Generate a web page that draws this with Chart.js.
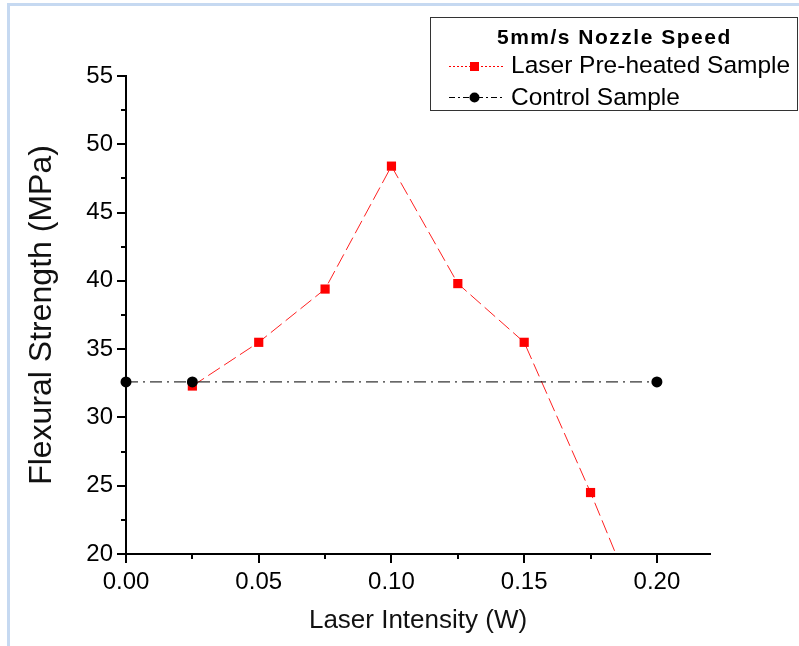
<!DOCTYPE html>
<html>
<head>
<meta charset="utf-8">
<script src="https://cdn.jsdelivr.net/npm/chart.js@4.4.1/dist/chart.umd.min.js"></script>
<style>
  html, body { margin: 0; padding: 0; background: #fff; }
  #wrap { position: relative; width: 799px; height: 646px; }
  #frame { position: absolute; left: 7px; top: 3px; right: 0; bottom: 0;
           border-left: 3px solid #c6d9f1; border-top: 3px solid #c6d9f1; pointer-events: none; }
</style>
</head>
<body>
<div id="wrap">
  <canvas id="chart" width="799" height="646"></canvas>
  <div id="frame"></div>
</div>
<script>
// data
const xTicks = [0, 0.05, 0.10, 0.15, 0.20];
const xMinorTicks = [0.025, 0.075, 0.125, 0.175];
const yTicks = [20, 25, 30, 35, 40, 45, 50, 55];
const yMinorTicks = [22.5, 27.5, 32.5, 37.5, 42.5, 47.5, 52.5];

const laserIntensity = [0.025, 0.05, 0.075, 0.10, 0.125, 0.15, 0.175, 0.20];
const laserStrength = [32.3, 35.5, 39.4, 48.4, 39.8, 35.5, 24.5, 12.7];

const controlIntensity = [0, 0.025, 0.20];
const controlStrength = [32.6, 32.6, 32.6];

const legendTitle = "5mm/s Nozzle Speed";
const laserLabel = "Laser Pre-heated Sample";
const controlLabel = "Control Sample";

const FONT = "'Liberation Sans', Arial, sans-serif";

// minor/major tick marks drawn outward from the axes
const tickPlugin = {
    id: "ticks",
    afterDraw(chart) {
        const ctx = chart.ctx;
        const x = chart.scales.x, y = chart.scales.y;
        const area = chart.chartArea;
        ctx.save();
        ctx.strokeStyle = "#000";
        ctx.lineWidth = 2;
        ctx.beginPath();
        xTicks.forEach(v => { const p = Math.round(x.getPixelForValue(v)); ctx.moveTo(p, area.bottom); ctx.lineTo(p, area.bottom + 9); });
        xMinorTicks.forEach(v => { const p = Math.round(x.getPixelForValue(v)); ctx.moveTo(p, area.bottom); ctx.lineTo(p, area.bottom + 5); });
        yTicks.forEach(v => { const p = Math.round(y.getPixelForValue(v)); ctx.moveTo(area.left, p); ctx.lineTo(area.left - 9, p); });
        yMinorTicks.forEach(v => { const p = Math.round(y.getPixelForValue(v)); ctx.moveTo(area.left, p); ctx.lineTo(area.left - 5, p); });
        ctx.stroke();
        ctx.restore();
    }
};

// framed legend in the top right corner
const legendPlugin = {
    id: "boxLegend",
    afterDraw(chart) {
        const ctx = chart.ctx;
        ctx.save();
        ctx.fillStyle = "#fff";
        ctx.fillRect(430.5, 17.5, 367, 93);
        ctx.strokeStyle = "#333";
        ctx.lineWidth = 1;
        ctx.strokeRect(430.5, 17.5, 367, 93);

        ctx.fillStyle = "#000";
        ctx.textBaseline = "middle";
        ctx.textAlign = "left";
        ctx.font = "bold 21px " + FONT;
        ctx.letterSpacing = "1.5px";
        ctx.fillText(legendTitle, 497, 38);
        ctx.letterSpacing = "0px";

        ctx.font = "24.5px " + FONT;
        ctx.fillText(laserLabel, 511, 66);
        ctx.fillText(controlLabel, 511, 98);

        // laser sample: dotted red line + square
        ctx.strokeStyle = "#ff0000";
        ctx.lineWidth = 1;
        ctx.setLineDash([2, 2]);
        ctx.beginPath(); ctx.moveTo(449, 66.5); ctx.lineTo(505, 66.5); ctx.stroke();
        ctx.fillStyle = "#ff0000";
        ctx.fillRect(470, 62, 9, 9);

        // control sample: dash-dot black line + circle
        ctx.strokeStyle = "#000";
        ctx.setLineDash([6, 3, 2, 3]);
        ctx.beginPath(); ctx.moveTo(449, 97.5); ctx.lineTo(505, 97.5); ctx.stroke();
        ctx.setLineDash([]);
        ctx.fillStyle = "#000";
        ctx.beginPath(); ctx.arc(474.5, 97.5, 5, 0, Math.PI * 2); ctx.fill();
        ctx.restore();
    }
};

new Chart(document.getElementById("chart"), {
    type: "line",
    data: {
        datasets: [
            {
                label: laserLabel,
                data: laserIntensity.map((v, i) => ({ x: v, y: laserStrength[i] })),
                borderColor: "#ff2020",
                backgroundColor: "#ff0000",
                borderWidth: 1,
                borderDash: [14, 5],
                pointStyle: "rect",
                pointRadius: 6.5,
                pointBorderWidth: 0,
                tension: 0,
                order: 1
            },
            {
                label: controlLabel,
                data: controlIntensity.map((v, i) => ({ x: v, y: controlStrength[i] })),
                borderColor: "#000",
                backgroundColor: "#000",
                borderWidth: 1,
                borderDash: [12, 5, 2, 5],
                pointStyle: "circle",
                pointRadius: 5.5,
                pointBorderWidth: 0,
                tension: 0,
                clip: { left: 10, top: 0, right: 0, bottom: 0 },
                order: 0
            }
        ]
    },
    options: {
        responsive: false,
        animation: false,
        layout: { padding: { left: 0, top: 76, right: 89, bottom: 0 } },
        plugins: { legend: { display: false }, tooltip: { enabled: false } },
        scales: {
            x: {
                type: "linear",
                min: 0,
                max: 0.22,
                afterBuildTicks: s => { s.ticks = xTicks.map(v => ({ value: v })); },
                afterFit: s => { s.height = 92; },
                grid: { display: false, drawTicks: false },
                border: { display: true, color: "#000", width: 2 },
                ticks: {
                    color: "#000",
                    padding: 14,
                    maxRotation: 0,
                    font: { family: FONT, size: 24 },
                    callback: v => Number(v).toFixed(2)
                },
                title: {
                    display: true,
                    text: "Laser Intensity (W)",
                    color: "#111",
                    font: { family: FONT, size: 26 },
                    padding: { top: 0, bottom: 10 }
                }
            },
            y: {
                type: "linear",
                min: 20,
                max: 55,
                afterBuildTicks: s => { s.ticks = yTicks.map(v => ({ value: v })); },
                afterFit: s => { s.width = 126; },
                grid: { display: false, drawTicks: false },
                border: { display: true, color: "#000", width: 2 },
                ticks: {
                    color: "#000",
                    padding: 13,
                    font: { family: FONT, size: 24 }
                },
                title: {
                    display: true,
                    text: "Flexural Strength (MPa)",
                    color: "#111",
                    font: { family: FONT, size: 32 },
                    padding: { top: 23, bottom: 0 }
                }
            }
        }
    },
    plugins: [tickPlugin, legendPlugin]
});
</script>
</body>
</html>
